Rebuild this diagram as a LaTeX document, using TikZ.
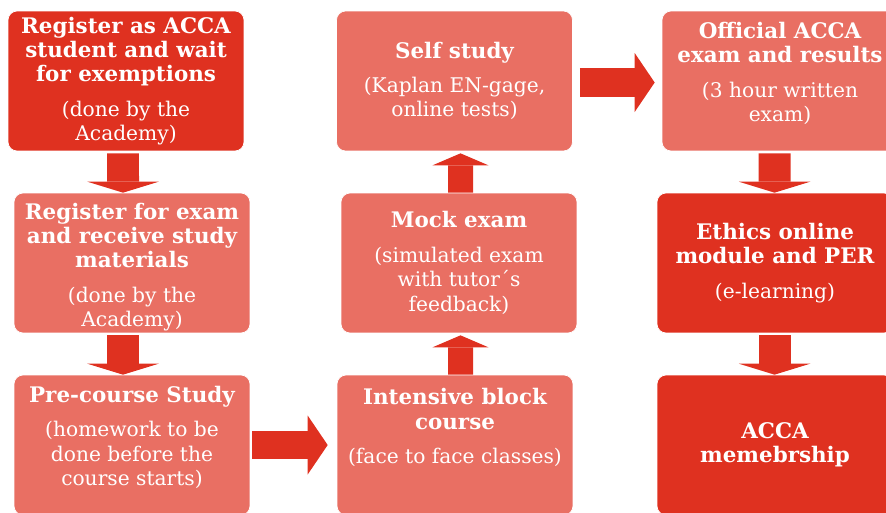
\documentclass[tikz,border=0pt]{standalone}
\usepackage{fontspec}
\setmainfont{DejaVu Serif}
\usepackage{tikz}
\usetikzlibrary{arrows.meta}

\definecolor{darkred}{RGB}{223,49,32}
\definecolor{lightred}{RGB}{233,111,99}

\newcommand\noteline{\fontsize{11.5}{13.9}\selectfont\mdseries}

\tikzset{
  stepbox/.style={rounded corners=0.18cm, draw=white, line width=0.4pt,
    minimum width=4.72cm, minimum height=2.8cm},
  steptext/.style={align=center, text=white,
    font=\fontsize{12.2}{13.9}\selectfont\bfseries},
  downarr/.style={darkred, line width=0.64cm,
    -{Triangle[length=0.22cm, width=1.43cm, line width'=0pt]}},
  uparr/.style={darkred, line width=0.5cm,
    -{Triangle[length=0.24cm, width=1.12cm, line width'=0pt]}},
  rightarr/.style={darkred, line width=0.57cm,
    -{Triangle[length=0.4cm, width=1.18cm, line width'=0pt]}},
}

\begin{document}
\begin{tikzpicture}[x=0.02cm, y=-0.02cm]

    \useasboundingbox (0,0) rectangle (886,512);
    \clip (0,0) rectangle (886,512);

    % boxes
    \node[stepbox, fill=darkred] (reg) at (126,81) {};
    \node[stepbox, fill=lightred] (regexam) at (132,263) {};
    \node[stepbox, fill=lightred] (precourse) at (132,445) {};
    \node[stepbox, fill=lightred] (intensive) at (455,445) {};
    \node[stepbox, fill=lightred] (mock) at (459,263) {};
    \node[stepbox, fill=lightred] (self) at (454.5,81) {};
    \node[stepbox, fill=lightred] (official) at (780,81) {};
    \node[stepbox, fill=darkred] (ethics) at (775,263) {};
    \node[stepbox, fill=darkred] (member) at (775,445) {};

    % texts
    \node[steptext] (reg-t) at (reg) {Register as ACCA\\student and wait\\for exemptions\\[0.2cm]\noteline (done by the\\\noteline Academy)};
    \node[steptext, yshift=-0.08cm] (regexam-t) at (regexam) {Register for exam\\and receive study\\materials\\[0.2cm]\noteline (done by the\\\noteline Academy)};
    \node[steptext, yshift=0.15cm] (precourse-t) at (precourse) {Pre-course Study\\[0.2cm]\noteline (homework to be\\\noteline done before the\\\noteline course starts)};
    \node[steptext, yshift=0.35cm] (intensive-t) at (intensive) {Intensive block\\course\\[0.2cm]\noteline (face to face classes)};
    \node[steptext] (mock-t) at (mock) {Mock exam\\[0.2cm]\noteline (simulated exam\\\noteline with tutor´s\\\noteline feedback)};
    \node[steptext] (self-t) at (self) {Self study\\[0.2cm]\noteline (Kaplan EN-gage,\\\noteline online tests)};
    \node[steptext, yshift=0.15cm] (official-t) at (official) {Official ACCA\\exam and results\\[0.2cm]\noteline (3 hour written\\\noteline exam)};
    \node[steptext] (ethics-t) at (ethics) {Ethics online\\module and PER\\[0.2cm]\noteline (e-learning)};
    \node[steptext] (member-t) at (member) {ACCA\\memebrship};

    % arrows
    \draw[downarr] ([xshift=-0.06cm, yshift=-0.04cm]reg.south) -- ([xshift=-0.18cm]regexam.north);
    \draw[downarr] ([xshift=-0.18cm, yshift=-0.04cm]regexam.south) -- ([xshift=-0.18cm]precourse.north);
    \draw[rightarr] ([xshift=0.04cm]precourse.east) -- ([xshift=-0.18cm]intensive.west);
    \draw[uparr] ([xshift=0.11cm]intensive.north) -- ([xshift=0.03cm, yshift=-0.04cm]mock.south);
    \draw[uparr] ([xshift=0.03cm]mock.north) -- ([xshift=0.12cm, yshift=-0.04cm]self.south);
    \draw[rightarr] ([xshift=0.14cm, yshift=-0.03cm]self.east) -- ([xshift=-0.14cm, yshift=-0.03cm]official.west);
    \draw[downarr] ([xshift=-0.11cm, yshift=-0.04cm]official.south) -- ([xshift=-0.01cm]ethics.north);
    \draw[downarr] ([xshift=-0.01cm, yshift=-0.04cm]ethics.south) -- ([xshift=-0.01cm]member.north);

\end{tikzpicture}
\end{document}
